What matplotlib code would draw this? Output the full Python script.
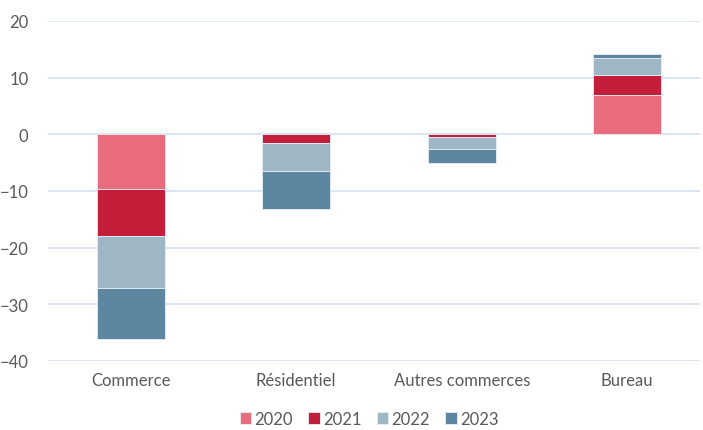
import numpy as np
import matplotlib
matplotlib.use("Agg")
import matplotlib.pyplot as plt

categories = ["Commerce", "Résidentiel", "Autres commerces", "Bureau"]
years = ["2020", "2021", "2022", "2023"]
v2020 = [-9.6, 0.0, 0.0, 7.0]
v2021 = [-8.3, -1.5, -0.5, 3.5]
v2022 = [-9.3, -4.9, -2.0, 2.9]
v2023 = [-9.0, -6.8, -2.5, 0.7]
colors = ["#e86c7d", "#c41f3a", "#9fb6c5", "#5d87a1"]

plt.rcParams["font.family"] = ["Lato", "DejaVu Sans"]

fig = plt.figure(figsize=(7.03, 4.31), dpi=100)
ax = fig.add_axes([48 / 703, 1 - 362 / 431, 652 / 703, 340 / 431])

x = np.arange(len(categories))
bottom = np.zeros(len(categories))
for year, vals, col in zip(years, [v2020, v2021, v2022, v2023], colors):
    vals = np.array(vals)
    ax.bar(x, vals, 0.41, bottom=bottom, color=col, label=year,
           edgecolor="#e8eef6", linewidth=0.6, zorder=3)
    bottom = bottom + vals

ax.set_ylim(-40, 20)
ax.set_xlim(-0.5, 3.44)
ax.set_yticks(range(-40, 21, 10))
ax.set_xticks(x)
ax.set_xticklabels(categories)
ax.grid(axis="y", color="#d5e0f0", linewidth=1.2, zorder=0)
for s in ax.spines.values():
    s.set_visible(False)
ax.tick_params(axis="both", length=0, colors="#595959", labelsize=12)
ax.tick_params(axis="y", pad=14)
ax.tick_params(axis="x", pad=8)

fig.legend(loc="center", bbox_to_anchor=(369 / 703, 1 - 420 / 431), ncol=4, frameon=False,
           handlelength=0.7, handleheight=0.7, handletextpad=0.2, columnspacing=0.9,
           labelcolor="#595959", fontsize=12, borderpad=0.2)

fig.savefig("out.png", dpi=100)
